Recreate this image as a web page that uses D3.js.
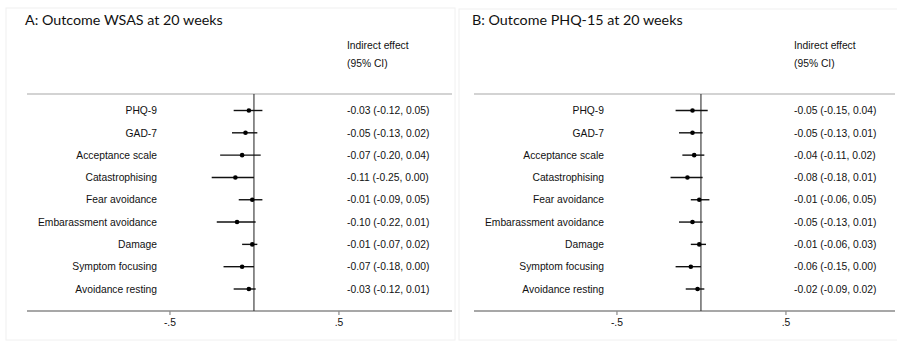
<!DOCTYPE html>
<html><head><meta charset="utf-8">
<script src="https://cdn.jsdelivr.net/npm/d3@7"></script>
<style>body{margin:0;background:#fff}svg{display:block}</style>
</head><body>
<svg id="c" width="897" height="341"></svg>
<script>
const labels = ["PHQ-9","GAD-7","Acceptance scale","Catastrophising","Fear avoidance","Embarassment avoidance","Damage","Symptom focusing","Avoidance resting"];
const wsasEst = [-0.03,-0.05,-0.07,-0.11,-0.01,-0.10,-0.01,-0.07,-0.03];
const wsasLo  = [-0.12,-0.13,-0.20,-0.25,-0.09,-0.22,-0.07,-0.18,-0.12];
const wsasHi  = [0.05,0.02,0.04,0.00,0.05,0.01,0.02,0.00,0.01];
const phqEst  = [-0.05,-0.05,-0.04,-0.08,-0.01,-0.05,-0.01,-0.06,-0.02];
const phqLo   = [-0.15,-0.13,-0.11,-0.18,-0.06,-0.13,-0.06,-0.15,-0.09];
const phqHi   = [0.04,0.01,0.02,0.01,0.05,0.01,0.03,0.00,0.02];
const tickValues = [-0.5, 0.5];
const tickLabels = ["-.5", ".5"];
const titles = ["A: Outcome WSAS at 20 weeks", "B: Outcome PHQ-15 at 20 weeks"];
const headers = ["Indirect effect", "(95% CI)"];

const fmt = d3.formatLocale({decimal:".",thousands:",",grouping:[3],currency:["$",""],minus:"-"}).format(".2f");
const svg = d3.select("#c");
const panels = [
  {ox:0, title:titles[0], est:wsasEst, lo:wsasLo, hi:wsasHi, right:452, border:[6,8,449,332]},
  {ox:447, title:titles[1], est:phqEst, lo:phqLo, hi:phqHi, right:895, border:[459,9,440,331]}
];
const FONT = "'Liberation Sans', Arial, sans-serif";

panels.forEach(p => {
  const g = svg.append("g");
  g.append("rect").attr("x",p.border[0]).attr("y",p.border[1]).attr("width",p.border[2]).attr("height",p.border[3])
    .attr("fill","none").attr("stroke","#f0f0f0").attr("stroke-width",1);
  const x = d3.scaleLinear().domain([-1.343, 1.172]).range([27 + p.ox, 452 + p.ox]);
  const xr = p.right;
  const y = d3.scalePoint().domain(labels).range([110.5, 289]);

  g.append("text").attr("x", 25 + p.ox).attr("y", 25).text(p.title)
    .attr("font-family","Lato, 'Open Sans', sans-serif").attr("font-size",14.3).attr("fill","#111");

  headers.forEach((h,i) => {
    g.append("text").attr("x", 347 + p.ox).attr("y", 49 + i*18).text(h)
      .attr("font-family",FONT).attr("font-size",10.3).attr("fill","#111");
  });

  g.append("line").attr("x1", x.range()[0]).attr("x2", xr).attr("y1", 94).attr("y2", 94)
    .attr("stroke","#c4c4c4").attr("stroke-width",1.3);

  const ax = g.append("g").attr("transform","translate(0,311)")
    .call(d3.axisBottom(x).tickValues(tickValues).tickFormat((d,i)=>tickLabels[i]).tickSize(4).tickSizeOuter(0).tickPadding(4));
  ax.select(".domain").attr("d", `M${x.range()[0]},0H${xr}`).attr("stroke","#8a8a8a").attr("stroke-width",1.5);
  ax.selectAll(".tick line").attr("stroke","#8a8a8a").attr("stroke-width",1.2);
  ax.selectAll(".tick text").attr("font-family",FONT).attr("font-size",10.3).attr("fill","#111");

  g.append("line").attr("x1", x(0)).attr("x2", x(0)).attr("y1", 94).attr("y2", 311)
    .attr("stroke","#333").attr("stroke-width",1.1);

  labels.forEach((lab, i) => {
    const cy = y(lab);
    g.append("text").attr("x", 157 + p.ox).attr("y", cy).attr("dy","0.36em").attr("text-anchor","end")
      .text(lab).attr("font-family",FONT).attr("font-size",10.3).attr("fill","#111");
    g.append("line").attr("x1", x(p.lo[i])).attr("x2", x(p.hi[i])).attr("y1", cy).attr("y2", cy)
      .attr("stroke","#111").attr("stroke-width",1.4);
    g.append("circle").attr("cx", x(p.est[i])).attr("cy", cy).attr("r", 2.3).attr("fill","#000");
    g.append("text").attr("x", 347 + p.ox).attr("y", cy).attr("dy","0.36em")
      .text(`${fmt(p.est[i])} (${fmt(p.lo[i])}, ${fmt(p.hi[i])})`)
      .attr("font-family",FONT).attr("font-size",10.3).attr("fill","#111");
  });
});
</script>
</body></html>
